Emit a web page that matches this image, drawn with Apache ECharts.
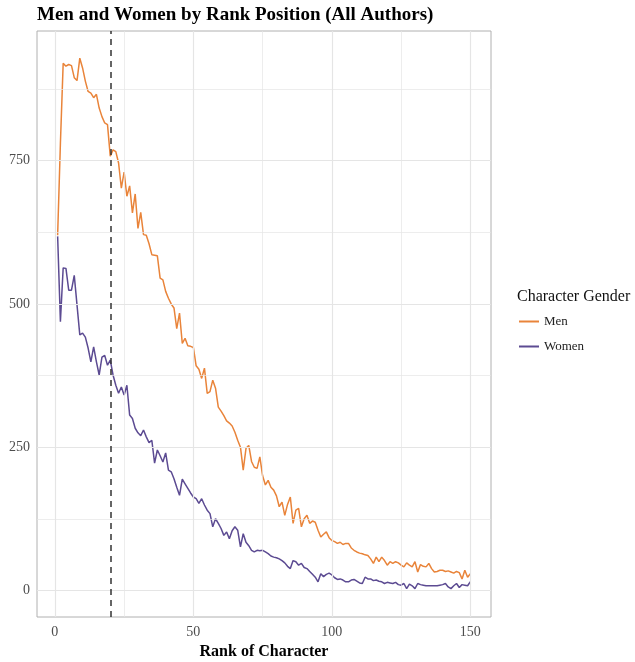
<!DOCTYPE html>
<html>
<head>
<meta charset="utf-8">
<script src="https://cdn.jsdelivr.net/npm/echarts@6/dist/echarts.min.js"></script>
<style>html,body{margin:0;padding:0;background:#fff}#c{width:635px;height:662px}</style>
</head>
<body>
<div id="c"></div>
<script>
const ranks = Array.from({length:150},(_,i)=>i+1);
const men = [620,780,920,915,918,916,895,890,929,912,889,871,868,860,866,842,827,816,813,758,
769,766,746,702,730,688,706,659,692,632,660,621,620,605,586,585,584,545,542,522,
510,500,493,457,484,431,440,427,426,424,392,386,370,388,344,347,367,353,320,313,
305,296,292,287,276,262,250,210,248,253,225,215,213,233,200,184,192,180,175,165,
146,154,131,150,163,117,140,143,111,125,131,117,121,119,105,93,98,102,92,87,
85,82,84,80,82,82,74,70,67,65,64,62,61,55,47,58,50,58,52,44,
50,47,50,48,44,41,48,44,41,50,32,45,42,41,47,38,32,33,35,35,
33,34,32,30,33,31,20,35,23,29];
const women = [618,469,563,562,524,524,550,498,446,449,442,423,399,425,399,376,407,410,393,402,
376,358,344,355,341,358,306,300,283,275,270,280,268,258,262,222,245,235,224,240,
210,207,195,180,166,194,186,178,170,163,160,152,160,149,140,134,111,125,117,108,
96,102,90,104,111,105,76,99,84,78,70,67,70,69,70,67,64,60,58,57,
55,52,48,42,38,52,50,44,47,40,38,33,28,23,15,29,24,28,30,27,
22,19,20,18,15,15,18,19,16,13,12,23,20,20,17,18,16,15,12,14,
13,12,14,10,9,12,3,11,8,3,12,10,9,8,8,8,8,8,9,10,
12,6,3,8,12,5,10,9,8,15];
const xTicks = [0,50,100,150];
const xMinor = [25,75,125];
const yTicks = [0,250,500,750];
const yMinor = [125,375,625,875];
const cutoffRank = 20;

const FONT = '"Liberation Serif","Times New Roman",serif';
const chart = echarts.init(document.getElementById('c'));
const gridLines = [];
xMinor.forEach(v=>gridLines.push({xAxis:v,lineStyle:{width:0.7}}));
yMinor.forEach(v=>gridLines.push({yAxis:v,lineStyle:{width:0.7}}));
xTicks.forEach(v=>gridLines.push({xAxis:v,lineStyle:{width:1.2}}));
yTicks.forEach(v=>gridLines.push({yAxis:v,lineStyle:{width:1.2}}));

chart.setOption({
  animation:false,
  backgroundColor:'#fff',
  title:{text:'Men and Women by Rank Position (All Authors)',left:32,top:1,padding:5,
    textStyle:{fontFamily:FONT,fontWeight:'bold',fontSize:19,color:'#000'}},
  grid:{left:37,right:144,top:31,bottom:45,containLabel:false,outerBoundsMode:'none',
    show:true,borderColor:'#b0b0b0',borderWidth:1,backgroundColor:'#fff'},
  legend:{orient:'vertical',left:519,top:315,padding:0,itemWidth:20,itemHeight:2,itemGap:12,icon:'rect',
    data:['Men','Women'],
    textStyle:{fontFamily:FONT,fontSize:13,color:'#222'}},
  graphic:[{type:'text',left:517,top:289,style:{text:'Character Gender',font:'16px '+FONT,fill:'#111'}}],
  xAxis:{type:'value',min:-6.45,max:157.45,
    name:'Rank of Character',nameLocation:'middle',nameGap:27,
    nameTextStyle:{fontFamily:FONT,fontWeight:'bold',fontSize:16,color:'#000'},
    axisLine:{show:false},splitLine:{show:false},
    axisTick:{show:true,length:4,customValues:xTicks,lineStyle:{color:'#333'}},
    axisLabel:{customValues:xTicks,fontFamily:FONT,fontSize:14,color:'#4d4d4d',margin:8}},
  yAxis:{type:'value',min:-46.5,max:976.5,
    axisLine:{show:false},splitLine:{show:false},
    axisTick:{show:true,length:4,customValues:yTicks,lineStyle:{color:'#333'}},
    axisLabel:{customValues:yTicks,fontFamily:FONT,fontSize:14,color:'#4d4d4d',margin:7}},
  series:[
    {type:'line',name:'_grid',data:[],silent:true,z:0,
      markLine:{silent:true,symbol:'none',label:{show:false},animation:false,
        lineStyle:{color:'#e5e5e5',type:'solid'},data:gridLines}},
    {type:'line',name:'Men',data:ranks.map((r,i)=>[r,men[i]]),showSymbol:false,
      color:'#e9843a',lineStyle:{width:1.5,color:'#e9843a'},z:3,
      markLine:{silent:true,symbol:'none',label:{show:false},
        lineStyle:{color:'#333',type:[6,5],width:1.5},data:[{xAxis:cutoffRank}]}},
    {type:'line',name:'Women',data:ranks.map((r,i)=>[r,women[i]]),showSymbol:false,
      color:'#5c4b92',lineStyle:{width:1.5,color:'#5c4b92'},z:3}
  ]
});
</script>
</body>
</html>
